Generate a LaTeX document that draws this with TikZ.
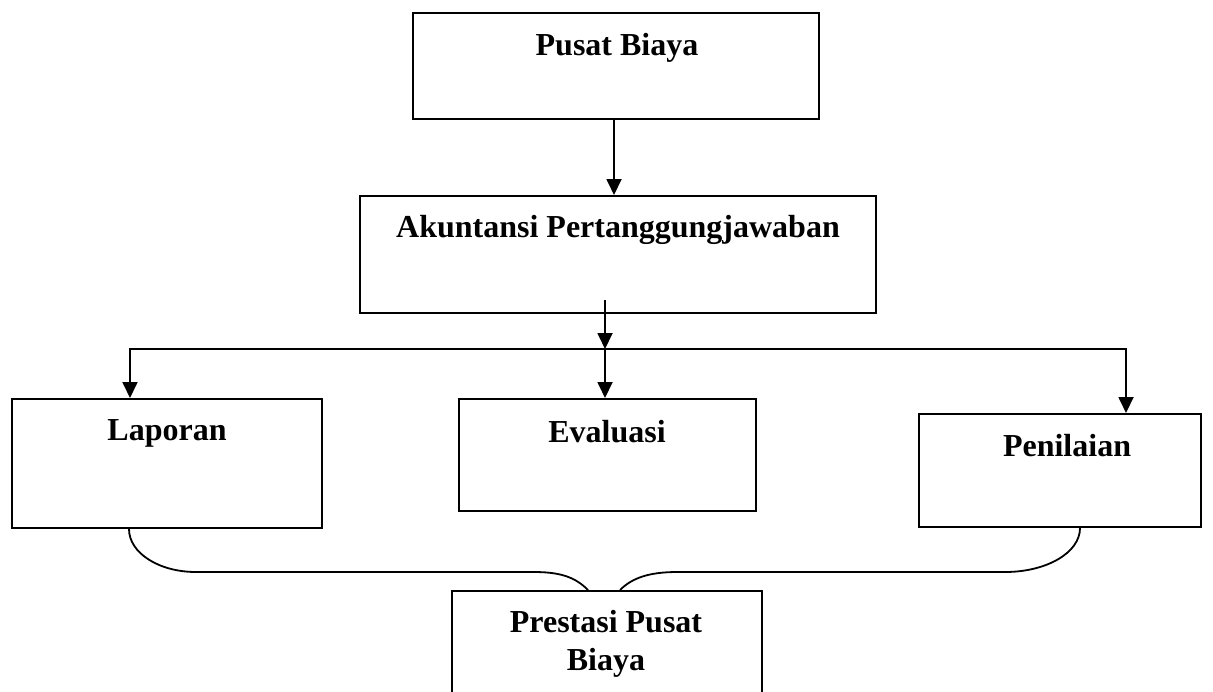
\documentclass[tikz,border=0pt]{standalone}
\usepackage{fontspec}
\setmainfont{Liberation Serif}
\usetikzlibrary{arrows.meta,calc}
\begin{document}
\begin{tikzpicture}[x=0.5pt,y=-0.5pt,
  box/.style={draw,line width=1pt,inner sep=0pt,fill=none},
  lbl/.style={font=\fontsize{16}{19}\selectfont\bfseries,anchor=base,inner sep=0pt,align=center},
  arr/.style={line width=0.9pt,-{Triangle[length=8pt,width=7.5pt]}},
  conn/.style={line width=0.9pt}]
\useasboundingbox (0,0) rectangle (1213,691);
% boxes
\node[box,minimum width=203pt,minimum height=53pt] (pb) at (616,66) {};
\node[box,minimum width=258pt,minimum height=58.5pt] (ak) at (618,254.5) {};
\node[box,minimum width=155pt,minimum height=64.5pt] (lap) at (167,463.5) {};
\node[box,minimum width=148.5pt,minimum height=56pt] (ev) at (607.5,455) {};
\node[box,minimum width=141pt,minimum height=56.5pt] (pen) at (1060,470.5) {};
\node[box,minimum width=155pt,minimum height=60pt] (pr) at (607,651) {};
% labels
\node[lbl] (pbt) at (617,55) {Pusat Biaya};
\node[lbl] (akt) at (618,237) {Akuntansi Pertanggungjawaban};
\node[lbl] (lapt) at (167,440) {Laporan};
\node[lbl] (evt) at (607,442) {Evaluasi};
\node[lbl] (pent) at (1067,456) {Penilaian};
\node[lbl] (prt) at (606,670) {Prestasi Pusat\\Biaya};
% arrows
\draw[arr] ($(pb.south)+(-2,0)$) -- ($(pb.south |- ak.north)+(-2,0)$);
\coordinate (split) at (605,349);
\draw[arr] ($(ak.south)+(-13,-14)$) -- (split);
\draw[arr] (split) -| ($(lap.north)+(-37,0)$);
\draw[arr] (split) -| ($(pen.north)+(66,0)$);
\draw[arr] (split) -- (split |- ev.north);
% brace
\coordinate (bl) at ($(lap.south)+(-38,0)$);
\coordinate (br) at ($(pen.south)+(20,0)$);
\coordinate (pl) at ($(pr.north)+(-19,0)$);
\coordinate (prr) at ($(pr.north)+(13,0)$);
\coordinate (b1) at (196,572);
\coordinate (b2) at (534,572);
\coordinate (b3) at (677,572);
\coordinate (b4) at (1005,572);
\draw[conn] (bl) .. controls +(0,24) and +(-37,0) .. (b1) -- (b2) .. controls +(28,0) and +(-12,-12) .. (pl);
\draw[conn] (prr) .. controls +(12,-12) and +(-28,0) .. (b3) -- (b4) .. controls +(41,0) and +(0,25) .. (br);
\end{tikzpicture}
\end{document}
